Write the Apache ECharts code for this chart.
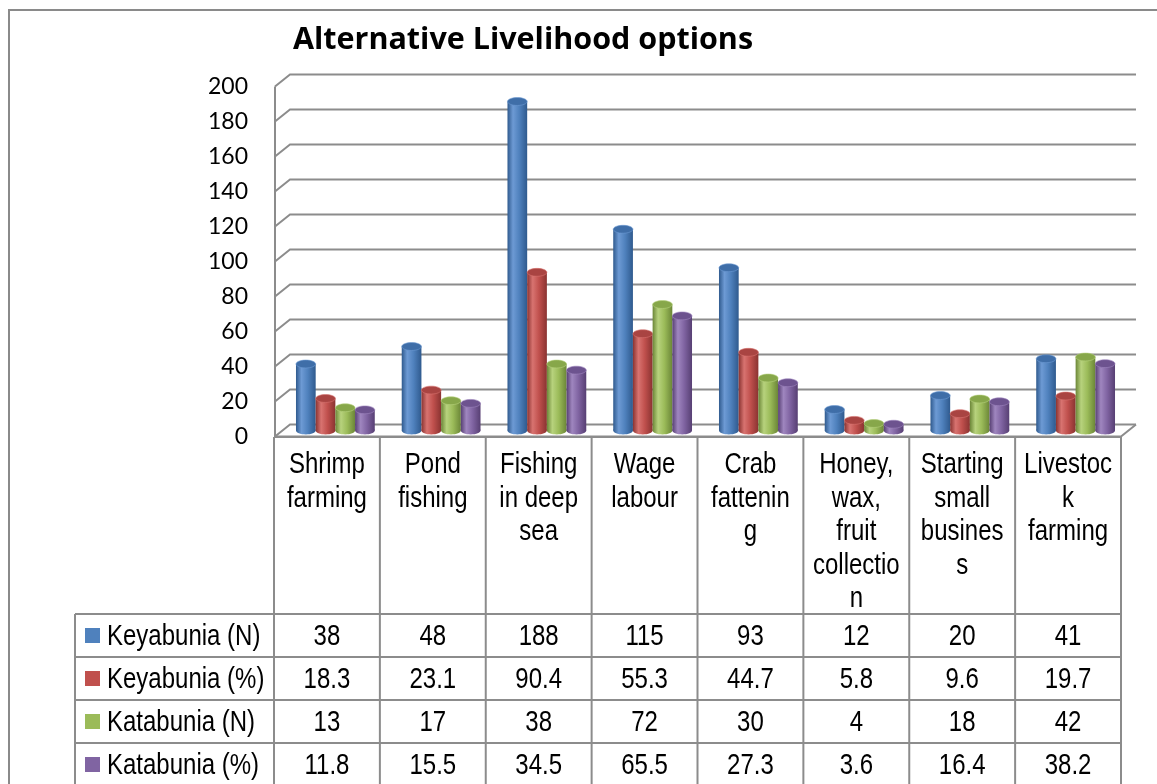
<!DOCTYPE html>
<html>
<head>
<meta charset="utf-8">
<title>Alternative Livelihood options</title>
<script src="https://cdn.jsdelivr.net/npm/echarts@6/dist/echarts.min.js"></script>
<style>
  html, body { margin: 0; padding: 0; background: #fff; }
  #chart { width: 1157px; height: 784px; }
</style>
</head>
<body>
<div id="chart"></div>
<script>
// categories as they wrap inside the data-table header
const categories = [
  'Shrimp\nfarming',
  'Pond\nfishing',
  'Fishing\nin deep\nsea',
  'Wage\nlabour',
  'Crab\nfattenin\ng',
  'Honey,\nwax,\nfruit\ncollectio\nn',
  'Starting\nsmall\nbusines\ns',
  'Livestoc\nk\nfarming'
]
const seriesNames = ['Keyabunia (N)', 'Keyabunia (%)', 'Katabunia (N)', 'Katabunia (%)']
const keyabuniaN = [38, 48, 188, 115, 93, 12, 20, 41]
const keyabuniaPct = [18.3, 23.1, 90.4, 55.3, 44.7, 5.8, 9.6, 19.7]
const katabuniaN = [13, 17, 38, 72, 30, 4, 18, 42]
const katabuniaPct = [11.8, 15.5, 34.5, 65.5, 27.3, 3.6, 16.4, 38.2]
const yTicks = [0, 20, 40, 60, 80, 100, 120, 140, 160, 180, 200]

const seriesValues = [keyabuniaN, keyabuniaPct, katabuniaN, katabuniaPct]

// dark edge, highlight, body, cap
const palettes = [
  ['#2f5a8e', '#6d9ad4', '#4f81bd', '#3f6ea8'],
  ['#8a3331', '#d87370', '#c0504d', '#a94442'],
  ['#6b8637', '#b7d27d', '#9bbb59', '#87a74a'],
  ['#573f73', '#9f86bf', '#8064a2', '#6d538f']
]

// 3D depth: half offset between mid plane and front/back planes
const DX = 7.5
const DY = 6
const GRID_LINE = '#8c8c8c'
const TABLE_LINE = '#8c8c8c'

const chartDom = document.getElementById('chart')
const chart = echarts.init(chartDom)

const renderWall = (params, api) => {
  const cs = params.coordSys
  const y = api.coord([0, api.value(1)])[1]
  const left = cs.x
  const right = cs.x + cs.width
  const children = [{
    type: 'polyline',
    shape: { points: [[left - DX, y + DY], [left + DX, y - DY], [right + DX, y - DY]] },
    style: { stroke: GRID_LINE, lineWidth: 2, fill: null }
  }]
  if (params.dataIndex === 0) {
    const topY = cs.y
    children.push({
      type: 'line',
      shape: { x1: left - DX, y1: topY + DY, x2: left - DX, y2: y + DY },
      style: { stroke: GRID_LINE, lineWidth: 2 }
    })
    children.push({
      type: 'polyline',
      shape: { points: [[left - DX, y + DY], [right - DX, y + DY], [right + DX, y - DY]] },
      style: { stroke: GRID_LINE, lineWidth: 2, fill: null }
    })
  }
  return { type: 'group', children }
}

const makeCylinder = (sIdx) => (params, api) => {
  const pal = palettes[sIdx]
  const cat = api.value(0)
  const top = api.coord([cat, api.value(1)])
  const base = api.coord([cat, 0])
  const band = api.size([1, 0])[0]
  const w = band * 0.745 / 4
  const x = top[0] - 2 * w + sIdx * w
  const ry = w * 0.2
  const body = {
    type: 'linear', x: 0, y: 0, x2: 1, y2: 0,
    colorStops: [
      { offset: 0, color: pal[0] },
      { offset: 0.28, color: pal[1] },
      { offset: 0.6, color: pal[2] },
      { offset: 1, color: pal[0] }
    ]
  }
  return {
    type: 'group',
    children: [
      { type: 'ellipse', shape: { cx: x + w / 2, cy: base[1], rx: w / 2, ry }, style: { fill: body } },
      { type: 'rect', shape: { x, y: top[1], width: w, height: base[1] - top[1] }, style: { fill: body } },
      {
        type: 'ellipse',
        shape: { cx: x + w / 2, cy: top[1], rx: w / 2, ry },
        style: { fill: pal[3], stroke: pal[1], lineWidth: 0.6 }
      }
    ]
  }
}

// data table below the plot
const buildTable = () => {
  const left = 75
  const colX0 = 274
  const colW = 847 / categories.length
  const headTop = 437
  const headBottom = 614
  const rowH = 43
  const tableFont = { fontSize: 30, fontFamily: 'Liberation Sans, Arial, sans-serif' }
  const els = []
  const line = (x1, y1, x2, y2) => els.push({
    type: 'line', shape: { x1, y1, x2, y2 },
    style: { stroke: TABLE_LINE, lineWidth: 2 }, z: 10
  })
  const bottom = headBottom + rowH * seriesNames.length
  const right = colX0 + colW * categories.length
  // horizontal lines
  line(colX0, headTop, right, headTop)
  for (let r = 0; r <= seriesNames.length; r++) {
    line(left, headBottom + r * rowH, right, headBottom + r * rowH)
  }
  // vertical lines
  line(left, headBottom, left, bottom)
  for (let c = 0; c <= categories.length; c++) {
    line(colX0 + c * colW, headTop, colX0 + c * colW, bottom)
  }
  // header texts
  categories.forEach((name, c) => {
    els.push({
      type: 'text', x: colX0 + (c + 0.5) * colW, y: 448, scaleX: 0.8, z: 11,
      style: {
        text: name, fill: '#000', ...tableFont, lineHeight: 33.5,
        align: 'center', verticalAlign: 'top', textAlign: 'center', textVerticalAlign: 'top'
      }
    })
  })
  // rows
  seriesNames.forEach((name, r) => {
    const cy = headBottom + (r + 0.5) * rowH
    els.push({
      type: 'rect', shape: { x: 85, y: cy - 7.5, width: 15, height: 15 },
      style: { fill: palettes[r][2] }, z: 11
    })
    els.push({
      type: 'text', x: 107, y: cy + 1, scaleX: 0.8, z: 11,
      style: {
        text: name, fill: '#000', ...tableFont,
        align: 'left', verticalAlign: 'middle', textAlign: 'left', textVerticalAlign: 'middle'
      }
    })
    seriesValues[r].forEach((v, c) => {
      els.push({
        type: 'text', x: colX0 + (c + 0.5) * colW, y: cy + 1, scaleX: 0.8, z: 11,
        style: {
          text: String(v), fill: '#000', ...tableFont,
          align: 'center', verticalAlign: 'middle', textAlign: 'center', textVerticalAlign: 'middle'
        }
      })
    })
  })
  // chart area border
  els.push({
    type: 'rect', shape: { x: 9, y: 10, width: 1200, height: 820 },
    style: { fill: null, stroke: '#8a8a8a', lineWidth: 2 }, z: 1
  })
  return els
}

const option = {
  backgroundColor: '#fff',
  animation: false,
  title: {
    text: 'Alternative Livelihood options',
    left: 518,
    textAlign: 'center',
    top: 20,
    textStyle: {
      fontFamily: 'Open Sans, sans-serif',
      fontWeight: 'bold',
      fontSize: 30.5,
      color: '#000'
    }
  },
  grid: [
    // front plane: carries the value labels
    { left: 275, right: 36, top: 86.5, bottom: 347.5 },
    // mid plane: where the bars stand
    { left: 282.5, right: 28.5, top: 80.5, bottom: 353.5 }
  ],
  xAxis: [
    { gridIndex: 0, type: 'category', data: categories, show: false },
    { gridIndex: 1, type: 'category', data: categories, show: false }
  ],
  yAxis: [
    {
      gridIndex: 0, type: 'value', min: 0, max: 200, interval: 20,
      axisLine: { show: false }, axisTick: { show: false }, splitLine: { show: false },
      axisLabel: { color: '#000', fontSize: 23, fontFamily: 'Lato, sans-serif', margin: 27 }
    },
    {
      gridIndex: 1, type: 'value', min: 0, max: 200, interval: 20, show: false,
      splitLine: { show: false }
    }
  ],
  series: [
    {
      type: 'custom',
      name: 'wall',
      xAxisIndex: 1,
      yAxisIndex: 1,
      silent: true,
      z: 1,
      renderItem: renderWall,
      data: yTicks.map((t) => [0, t])
    },
    ...seriesNames.map((name, s) => ({
      type: 'custom',
      name,
      xAxisIndex: 1,
      yAxisIndex: 1,
      z: 3,
      renderItem: makeCylinder(s),
      data: seriesValues[s].map((v, i) => [i, v])
    }))
  ],
  graphic: buildTable()
}

chart.setOption(option)

window.addEventListener('resize', () => {
  chart.resize()
})
</script>
</body>
</html>
